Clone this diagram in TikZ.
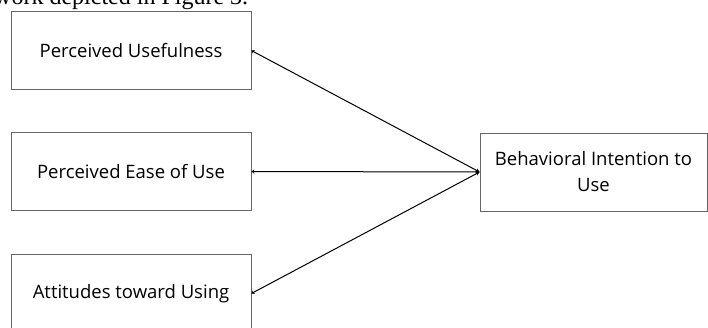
\documentclass[tikz,border=0pt]{standalone}
\usepackage{fontspec}
\setmainfont{Open Sans}
\newfontfamily\capserif{Liberation Serif}
\usetikzlibrary{arrows.meta}
\begin{document}
\begin{tikzpicture}[x=1pt,y=-1pt,
  box/.style={draw=black!60, line width=0.8pt, minimum width=240pt, minimum height=78pt,
    inner sep=0pt, font=\fontsize{18.5}{26}\selectfont, align=center},
  link/.style={line width=1pt, {Stealth[length=3pt,width=4pt]}-{Stealth[length=4pt,width=4pt]}}]
\useasboundingbox (0,0) rectangle (708,327);
\clip (0,0) rectangle (708,327);
\node[anchor=base west, font=\capserif\fontsize{24}{28}\selectfont, inner sep=0pt] (cap) at (-6,4.5) {work depicted in Figure 3.};
\node[box] (pu) at (131,50.5) {Perceived Usefulness};
\node[box] (pe) at (131,171.5) {Perceived Ease of Use};
\node[box] (at) at (131,293.5) {Attitudes toward Using};
\node[box, minimum width=227pt] (bi) at (593.5,172) {Behavioral Intention to\\Use};
\draw[link] (pu.east) -- (bi.west);
\draw[link] (pe.east) -- (bi.west);
\draw[link] (at.east) -- (bi.west);
\end{tikzpicture}
\end{document}
